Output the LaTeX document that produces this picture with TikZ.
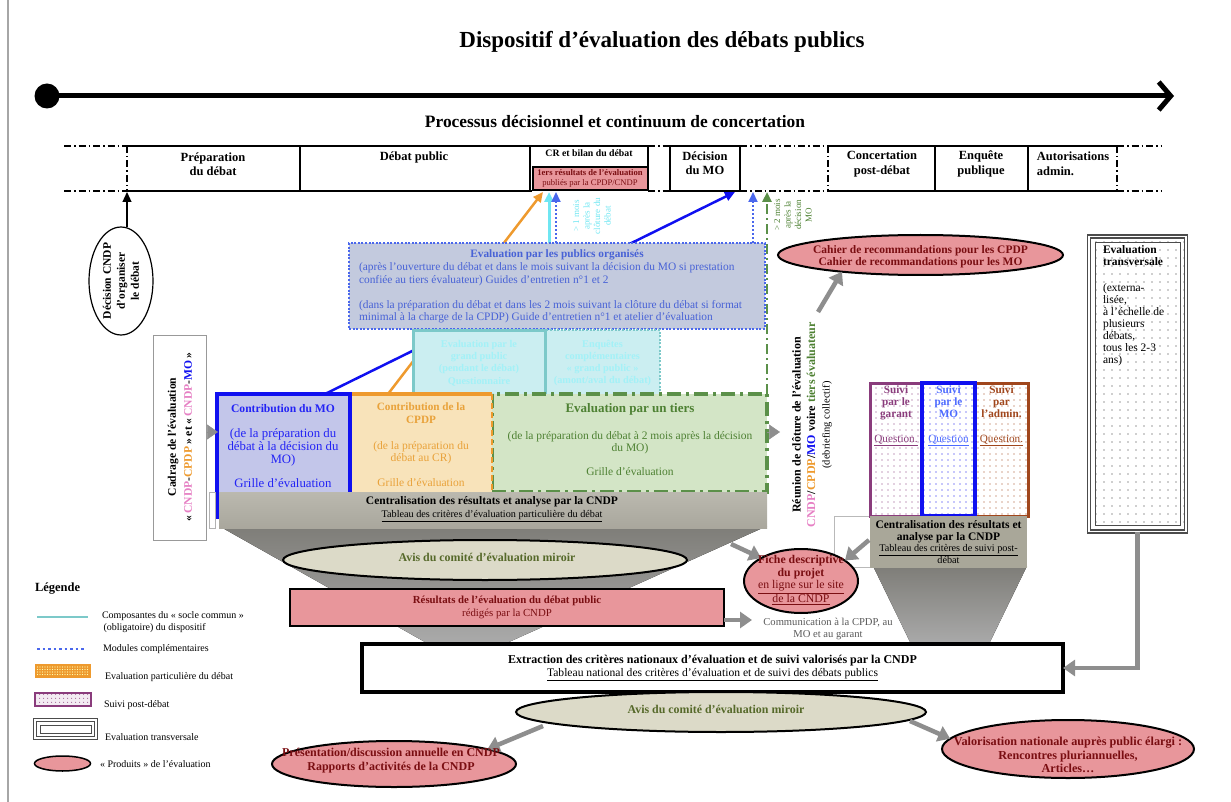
\documentclass[tikz,border=0pt]{standalone}
\usepackage{fontspec}
\setmainfont{Liberation Serif}
\usetikzlibrary{arrows.meta,shapes.geometric,patterns.meta,calc}
\pgfdeclarelayer{bg}
\pgfsetlayers{bg,main}
\newcommand{\fsz}[2]{\fontsize{#1}{#2}\selectfont}
\definecolor{cpink}{HTML}{E8969B}
\definecolor{cdred}{HTML}{7A0E12}
\definecolor{cmag}{HTML}{E680C4}
\definecolor{corange}{HTML}{EE9A2E}
\definecolor{cotext}{HTML}{E9A23A}
\definecolor{cblue}{HTML}{1010F0}
\definecolor{cmotext}{HTML}{2323F5}
\definecolor{cbluel}{HTML}{4A67EC}
\definecolor{cpubtext}{HTML}{4862D6}
\definecolor{cgreen}{HTML}{5B9049}
\definecolor{cgreent}{HTML}{4E8133}
\definecolor{ccyan}{HTML}{6FE6F2}
\definecolor{cteal}{HTML}{7CC9C9}
\definecolor{cgrayarr}{HTML}{8E8E8E}
\definecolor{cbartop}{HTML}{BBB9AF}
\definecolor{cbarbot}{HTML}{A9A79D}
\definecolor{cfuntop}{HTML}{7E7D78}
\definecolor{cfunbot}{HTML}{ABABAB}
\definecolor{cbeige}{HTML}{DCDAC8}
\definecolor{colive}{HTML}{56692A}
\definecolor{cpurple}{HTML}{8A3C7C}
\definecolor{cbrown}{HTML}{A0461C}
\definecolor{csuivibl}{HTML}{4D6BFF}
\definecolor{cpubfill}{HTML}{C3CADE}
\definecolor{cmofill}{HTML}{C3C6EA}
\definecolor{ccpdpfill}{HTML}{F8E3BA}
\definecolor{ctierfill}{HTML}{D3E5C6}
\definecolor{ccyanfill}{HTML}{CBEEF1}
\definecolor{ccyantext}{HTML}{A3F1F7}
\definecolor{ccentr}{HTML}{A9A799}
\begin{document}
\begin{tikzpicture}[x=1pt,y=-1pt,
  every node/.style={inner sep=0pt,outer sep=0pt},
  dd/.style={line width=1.1pt,dash pattern=on 7pt off 3pt on 1.5pt off 3pt},
  sl/.style={line width=1.1pt},
  rowtxt/.style={font=\bfseries\fsz{12.5}{14.5},align=center},
  upt/.style={-{Triangle[length=10pt,width=9pt]}},
  garrow/.style={draw=cgrayarr,line width=4.5pt,-{Triangle[length=12pt,width=16pt]}},
  tri/.style={draw=cgrayarr,fill=cgrayarr,line width=0.5pt,-{Triangle[length=11pt,width=15pt]}},
  prod/.style={ellipse,draw=black,line width=2pt,fill=cpink},
  prodtxt/.style={text=cdred,align=center},
  avis/.style={ellipse,draw=black,line width=2pt,fill=cbeige},
  avistxt/.style={text=colive,font=\bfseries\fsz{11.9}{13}},
  legtxt/.style={anchor=west,font=\fsz{10}{11.5},align=left},
  suivi/.style={line width=3pt,preaction={fill=white},minimum width=52pt,minimum height=133pt},
  suivitxt/.style={font=\fsz{11.2}{12},align=center},
]
\useasboundingbox (0,0) rectangle (1231,802);
\draw[gray!70,line width=1.5pt] (8,0) -- (8,802);

% title and timeline
\node[font=\bfseries\fsz{23}{26}] (title) at (662,42) {Dispositif d’évaluation des débats publics};
\node[circle,fill=black,minimum size=25pt] (tstart) at (47,96) {};
\coordinate (tend) at (1174,96);
\draw[line width=5pt,-{Straight Barb[length=12pt,width=28pt]}] (tstart.center) -- (tend);
\node[font=\bfseries\fsz{17.4}{20}] (proc) at (615,122) {Processus décisionnel et continuum de concertation};

% process row
\draw[dd] (64,146) -- (127,146) (64,191) -- (127,191) (127,146) -- (127,191);
\draw[sl] (127,146) -- (648,146) (127,191) -- (532,191);
\draw[sl] (300,146) -- (300,191) (530,146) -- (530,191) (648,146) -- (648,167);
\draw[dd] (648,146) -- (670,146) (648,191) -- (670,191);
\draw[sl] (670,146) rectangle (740,191);
\draw[dd] (740,146) -- (828,146) (740,191) -- (828,191) (828,146) -- (828,191);
\draw[sl] (828,146) -- (1117,146) (828,191) -- (1117,191) (935,146) -- (935,191) (1028,146) -- (1028,191);
\draw[dd] (1117,146) -- (1117,191) (1117,146) -- (1162,146) (1117,191) -- (1162,191);
\node[rowtxt] (prep) at (213,164) {Préparation\\du débat};
\node[rowtxt] (debat) at (414,157) {Débat public};
\node[font=\bfseries\fsz{9.8}{11}] (crbil) at (589,153) {CR et bilan du débat};
\node[draw=black,line width=2pt,fill=cpink,minimum width=115pt,minimum height=23pt,text=cdred,align=center,font=\fsz{8.6}{9.3}] (res1) at (590,178.5) {\textbf{1ers résultats de l’évaluation}\\publiés par la CPDP/CNDP};
\node[rowtxt] (decmo) at (705,163) {Décision\\du MO};
\node[rowtxt] (concert) at (882,164) {Concertation\\post-débat};
\node[rowtxt] (enq) at (981,164) {Enquête\\publique};
\node[rowtxt,align=left] (autor) at (1073,164) {Autorisations\\admin.};

\coordinate (prepfoot) at (127,192);
\coordinate (tipOr) at (543,192);
\coordinate (tipCy) at (549,192);
\coordinate (tipBd) at (556,192);
\coordinate (tipMO) at (735,192);
\coordinate (tipBd2) at (753,192);
\coordinate (tipGr) at (767,192);

% Decision CNDP
\node[ellipse,draw=black,line width=1.2pt,fill=white,minimum width=64pt,minimum height=108pt] (deccndp) at (121,281) {};
\node[rotate=90,font=\bfseries\fsz{11.5}{14},align=center] (deccndptxt) at (deccndp) {Décision CNDP\\d’organiser\\le débat};
\draw[line width=1.2pt,upt] (deccndp.north -| prepfoot) -- (prepfoot);

% Cadrage
\node[draw=gray!80,line width=1pt,fill=white,minimum width=53pt,minimum height=205pt] (cadrage) at (180,437.5) {};
\node[rotate=90,font=\bfseries\fsz{11.6}{16},align=center] (cadragetxt) at (180,437) {Cadrage de l’évaluation\\«\,\textcolor{cmag}{CNDP}-\textcolor{corange}{CPDP}\,» et «\,\textcolor{cmag}{CNDP}-\textcolor{cblue}{MO}\,»};

% evaluation par les publics
\node[draw=cbluel,line width=2pt,dash pattern=on 2pt off 1.6pt,fill=cpubfill,minimum width=416pt,minimum height=86pt] (publics) at (557,286) {};
\node[font=\bfseries\fsz{11.3}{12},text=cpubtext] (pubtitle) at (557,255) {Evaluation par les publics organisés};
\node[anchor=west,font=\fsz{11.4}{12.4},text=cpubtext,align=left] (pubbody) at (359,293) {(après l’ouverture du débat et dans le mois suivant la décision du MO si prestation\\confiée au tiers évaluateur) Guides d’entretien n°1 et 2\\[12.4pt](dans la préparation du débat et dans les 2 mois suivant la clôture du débat si format\\minimal à la charge de la CPDP) Guide d’entretien n°1 et atelier d’évaluation};

% cyan boxes
\node[draw=cteal,line width=2pt,dash pattern=on 2pt off 1.6pt,fill=ccyanfill,minimum width=115pt,minimum height=65pt] (enqc) at (602.5,362.5) {};
\node[draw=cteal,line width=3pt,fill=ccyanfill,minimum width=132pt,minimum height=65pt] (gpub) at (479,362.5) {};
\node[font=\bfseries\fsz{10.3}{12.3},text=ccyantext,align=center] (gpubtxt) at (479,363) {Evaluation par le\\grand public\\(pendant le débat)\\Questionnaire};
\node[font=\bfseries\fsz{10.3}{12.3},text=ccyantext,align=center] (enqctxt) at (602.5,363) {Enquêtes\\complémentaires\\« grand public »\\(amont/aval du débat)};

% contribution boxes
\node[draw=cgreen,line width=3.5pt,dash pattern=on 14pt off 5pt on 3pt off 5pt,fill=ctierfill,minimum width=275pt,minimum height=98pt] (tiers) at (629.5,443) {};
\node[fill=ccpdpfill,minimum width=142pt,minimum height=98pt] (cpdp) at (421,443) {};
\draw[corange,line width=4pt] (cpdp.north west) -- (cpdp.north east);
\draw[corange,line width=2.5pt,dash pattern=on 6pt off 3pt] (cpdp.north east) -- (cpdp.south east);
\node[draw=cblue,line width=4pt,fill=cmofill,minimum width=133pt,minimum height=123pt] (mobox) at (283.5,455.5) {};
\node[font=\fsz{12.8}{12.8},text=cmotext,align=center] (motxt) at (283,446) {\textbf{\fsz{11.6}{12}Contribution du MO}\\[12pt](de la préparation du\\débat à la décision du\\MO)\\[11pt]Grille d’évaluation};
\node[font=\fsz{11.5}{12.2},text=cotext,align=center] (cpdptxt) at (421,445) {\textbf{\fsz{11.2}{12}Contribution de la}\\\textbf{\fsz{11.2}{12}CPDP}\\[14pt](de la préparation du\\débat au CR)\\[13pt]Grille d’évaluation};
\node[font=\fsz{11.5}{12},text=cgreent,align=center] (tierstxt) at (630,440) {\textbf{\fsz{13}{13}Evaluation par un tiers}\\[15pt](de la préparation du débat à 2 mois après la décision\\du MO)\\[12pt]Grille d’évaluation};

% lines to the process row (behind boxes)
\begin{pgfonlayer}{bg}
\draw[corange,line width=2.5pt,upt] ($(cpdp.north west)+(38,0)$) -- (tipOr);
\draw[cblue,line width=2.5pt,upt] ($(mobox.north west)+(108,0)$) -- (tipMO);
\draw[ccyan,line width=3pt,upt] (tipCy |- gpub.north) -- (tipCy);
\draw[cbluel,line width=2pt,dash pattern=on 2pt off 2pt,upt] (tipBd |- publics.north) -- (tipBd);
\draw[cbluel,line width=2pt,dash pattern=on 2pt off 2pt,upt] (tipBd2 |- publics.north) -- (tipBd2);
\draw[cgreen,line width=2.5pt,dash pattern=on 10pt off 4pt on 2pt off 4pt,upt] (tiers.north east) -- (tipGr);
\end{pgfonlayer}

\node[rotate=90,align=center,font=\fsz{9}{10.5},text=ccyan] (cy1m) at (592,216) {> 1 mois\\après la\\clôture du\\débat};
\node[rotate=90,align=center,font=\fsz{9}{10.5},text=cgreent] (gr2m) at (793,215) {> 2 mois\\après la\\décision\\MO};

\coordinate (cadtip) at (218,432);
\draw[tri] (cadrage.east |- cadtip) -- (cadtip);
\coordinate (reuntip) at (780,432);
\draw[tri] (tiers.east |- reuntip) -- (reuntip);

% centralisation and funnel
\fill[top color=cfuntop,bottom color=cfunbot] (219,526) -- (767,526) -- (500,646) -- (432,646) -- cycle;
\node[top color=cbartop,bottom color=cbarbot,minimum width=548pt,minimum height=36pt] (bar) at (493,510) {};
\draw[gray!60,line width=0.8pt,fill=white] (209,492) rectangle (215,528);
\node[align=center,font=\bfseries\fsz{11.5}{13}] (bartxt) at (492,509) {Centralisation des résultats et analyse par la CNDP\\{\mdseries\fsz{10.2}{11}\underline{Tableau des critères d’évaluation particulière du débat}}};

\node[avis,minimum width=404pt,minimum height=40pt] (avis1) at (485,560) {};
\node[avistxt] (avis1txt) at (487,557) {Avis du comité d’évaluation miroir};
\node[draw=black,line width=2pt,fill=cpink,minimum width=434pt,minimum height=37pt,text=cdred,align=center,font=\fsz{10.8}{13}] (resul) at (507,607) {\textbf{Résultats de l’évaluation du débat public}\\rédigés par la CNDP};
\coordinate (commtip) at (752,620);
\draw[garrow] (resul.east |- commtip) -- (commtip);

% réunion de clôture
\node[rotate=90,align=center,font=\fsz{12}{14.5}] (reunion) at (812,425) {\textbf{Réunion de clôture de l’évaluation}\\\textbf{\textcolor{cmag}{CNDP}/\textcolor{corange}{CPDP}/\textcolor{cblue}{MO} voire \textcolor{cgreent}{tiers évaluateur}}\\{\fsz{10.5}{14.5}(debriefing collectif)}};

% cahier
\node[prod,minimum width=285pt,minimum height=40pt] (cahier) at (920.5,255) {};
\node[prodtxt,font=\bfseries\fsz{11.5}{12}] (cahiertxt) at (920.5,257) {Cahier de recommandations pour les CPDP\\Cahier de recommandations pour les MO};
\coordinate (cahs) at (818,312);
\draw[garrow] (cahs) -- (cahier.192);

% suivi post-débat
\draw[gray!55,line width=0.8pt] (870,516) -- (834,516) -- (834,567) -- (870,567);
\fill[top color=cfuntop,bottom color=cfunbot] (873,566) -- (1027,566) -- (988,646) -- (912,646) -- cycle;
\node[suivi,draw=cpurple,pattern={Dots[distance=6pt,radius=0.6pt]},pattern color=cpurple] (sg) at (896,449.5) {};
\node[suivi,draw=cbrown,minimum width=53pt,pattern={Dots[distance=6pt,radius=0.6pt]},pattern color=cbrown] (sa) at (1001.5,449.5) {};
\node[suivi,draw=cblue,line width=4pt,minimum width=53pt,pattern={Dots[distance=6pt,radius=0.6pt]},pattern color=cblue] (sm) at (948.5,449.5) {};
\node[suivitxt,text=cpurple] (sgt) at (896,416) {\textbf{Suivi}\\\textbf{par le}\\\textbf{garant}\\[13pt]\underline{Question.}};
\node[suivitxt,text=csuivibl] (smt) at (948.5,416) {\textbf{Suivi}\\\textbf{par le}\\\textbf{MO}\\[13pt]\underline{Question}};
\node[suivitxt,text=cbrown] (sat) at (1001.5,416) {\textbf{Suivi}\\\textbf{par}\\\textbf{l’admin.}\\[13pt]\underline{Question.}};
\node[fill=ccentr,minimum width=157pt,minimum height=52pt] (centr2) at (948.5,542) {};
\node[align=center,font=\fsz{11.5}{11.7}] (centr2txt) at (948.5,542) {\textbf{Centralisation des résultats et}\\\textbf{analyse par la CNDP}\\{\fsz{10.2}{11.7}\underline{Tableau des critères de suivi post-}}\\{\fsz{10.2}{11.7}débat}};

% fiche
\node[prod,minimum width=114pt,minimum height=64pt] (fiche) at (801,581) {};
\coordinate (fa1) at (731,544);
\draw[garrow] (fa1) -- (fiche.150);
\coordinate (fa2) at (869,540);
\draw[garrow] (fa2) -- (fiche.25);
\node[prodtxt,font=\fsz{11.8}{12.7}] (fichetxt) at (801,580) {\textbf{Fiche descriptive}\\\textbf{du projet}\\\underline{en ligne sur le site}\\\underline{de la CNDP}};
\node[align=center,font=\fsz{10.6}{12.5},text=black!65] (commtxt) at (828,629) {Communication à la CPDP, au\\MO et au garant};

% evaluation transversale
\node[draw=black!70,line width=1.3pt,double=white,double distance=1.6pt,preaction={fill=white},pattern={Dots[distance=8pt,radius=0.6pt]},pattern color=black!80,minimum width=97pt,minimum height=295pt] (transv) at (1137.5,384) {};
\draw[black!70,line width=1pt] ($(transv.north west)+(6,6)$) rectangle ($(transv.south east)+(-6,-6)$);
\node[anchor=north west,font=\fsz{11.5}{12},align=left] (transvtxt) at (1103,246) {\textbf{Evaluation}\\\textbf{transversale}\\[14pt](externa-\\lisée,\\à l’échelle de\\plusieurs\\débats,\\tous les 2-3\\ans)};

% extraction
\node[draw=black,line width=4pt,fill=white,minimum width=701pt,minimum height=48pt,align=center,font=\fsz{12}{13}] (extr) at (712.5,668) {\textbf{Extraction des critères nationaux d’évaluation et de suivi valorisés par la CNDP}\\{\fsz{11.6}{13}\underline{Tableau national des critères d’évaluation et de suivi des débats publics}}};
\draw[garrow] (transv.south) |- (extr.east);

\node[avis,minimum width=410pt,minimum height=40pt] (avis2) at (721,712) {};
\node[avistxt] (avis2txt) at (716,709) {Avis du comité d’évaluation miroir};

\node[prod,minimum width=244pt,minimum height=46pt] (pres) at (394,764) {};
\node[prod,minimum width=252pt,minimum height=58pt] (valo) at (1068,749) {};
\coordinate (ba1) at (543,726);
\draw[garrow] (ba1) -- (pres.9);
\coordinate (ba2) at (910,721);
\draw[garrow] (ba2) -- (valo.175);
\node[prodtxt,font=\bfseries\fsz{12}{14}] (prestxt) at (391,761) {Présentation/discussion annuelle en CNDP\\Rapports d’activités de la CNDP};
\node[prodtxt,font=\bfseries\fsz{12.2}{13.5}] (valotxt) at (1068,755) {Valorisation nationale auprès public élargi :\\Rencontres pluriannuelles,\\Articles…};

% legend
\node[anchor=west,font=\bfseries\fsz{12.5}{14}] (leg) at (35,589) {Légende};
\coordinate (l1a) at (37,617);
\coordinate (l1b) at (88,617);
\draw[cteal,line width=2pt] (l1a) -- (l1b);
\coordinate (l2a) at (37,649);
\coordinate (l2b) at (86,649);
\draw[cbluel,line width=2pt,dash pattern=on 2.5pt off 3pt] (l2a) -- (l2b);
\node[draw=corange,line width=2.5pt,preaction={fill=corange},pattern={Dots[distance=2.5pt,radius=0.6pt]},pattern color=white!70!yellow,minimum width=54pt,minimum height=12pt] (legor) at (63,671) {};
\node[draw=cpurple,line width=2.5pt,preaction={fill=cpurple!10},pattern={Dots[distance=4pt,radius=0.6pt]},pattern color=cpurple,minimum width=56pt,minimum height=13pt] (legpu) at (63,699.5) {};
\node[draw=black!70,line width=1.3pt,double=white,double distance=1.5pt,fill=white,minimum width=61pt,minimum height=18pt] (legtr) at (65.5,729) {};
\draw[black!70,line width=0.8pt] ($(legtr.north west)+(5,5)$) rectangle ($(legtr.south east)+(-5,-5)$);
\node[ellipse,draw=black,line width=1.5pt,fill=cpink,minimum width=56pt,minimum height=15pt] (legpr) at (62.5,763.5) {};
\node[legtxt] (lt1) at (102,622) {Composantes du « socle commun »\\\hspace*{1.5pt}(obligatoire) du dispositif};
\node[legtxt] (lt2) at (103,649) {Modules complémentaires};
\node[legtxt] (lt3) at (105,677) {Evaluation particulière du débat};
\node[legtxt] (lt4) at (104,705) {Suivi post-débat};
\node[legtxt] (lt5) at (105,737) {Evaluation transversale};
\node[legtxt] (lt6) at (100,764) {« Produits » de l’évaluation};
\end{tikzpicture}
\end{document}
